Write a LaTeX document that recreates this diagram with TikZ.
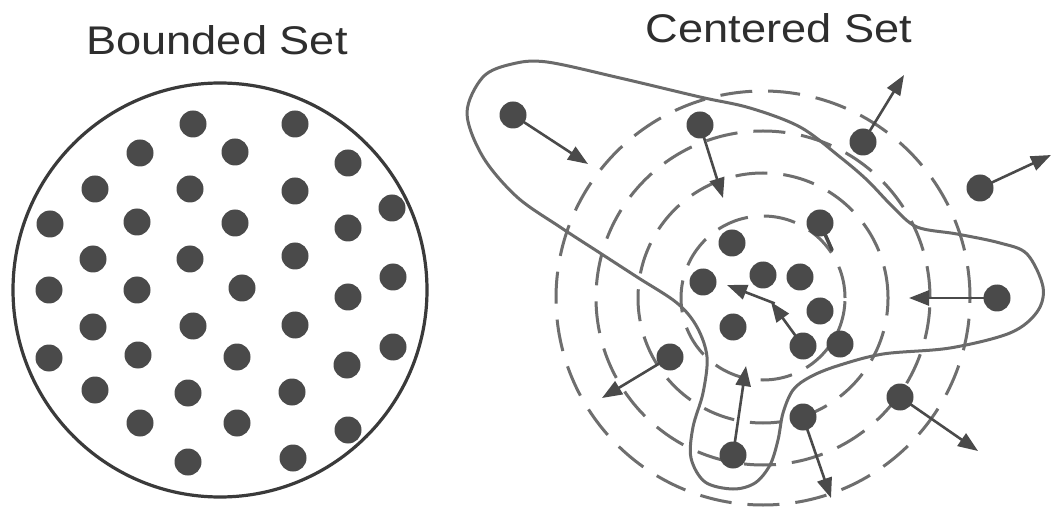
\documentclass[tikz,border=0pt]{standalone}
\usepackage{fontspec}
\setmainfont{Liberation Sans}
\usetikzlibrary{arrows.meta}
\definecolor{dotc}{HTML}{4A4A4A}
\definecolor{linec}{HTML}{3A3A3A}
\definecolor{curvec}{HTML}{6A6A6A}
\definecolor{dashc}{HTML}{6E6E6E}
\definecolor{arrc}{HTML}{4A4A4A}
\definecolor{textc}{HTML}{2E2E2E}
\tikzset{
  dot/.style={circle,fill=dotc,draw=none,minimum size=13.5pt,inner sep=0pt},
  arr/.style={draw=arrc,line width=1.3pt,-{Triangle[length=10pt,width=7.5pt]},shorten <=-2pt},
  tail/.style={draw=arrc,line width=1.8pt,line cap=round,shorten <=-2pt},
  ring/.style={draw=dashc,line width=1.5pt,dash pattern=on 16pt off 8pt},
  title/.style={font=\fontsize{20pt}{24pt}\selectfont,text=textc,anchor=base,xscale=1.13,inner sep=0pt}
}
\begin{document}
\begin{tikzpicture}[x=0.5pt,y=-0.5pt]
\useasboundingbox (0,0) rectangle (1053,507);
\fill[white] (0,0) rectangle (1053,507);
% titles
\node[title] (t1) at (217,55) {Bounded Set};
\node[title] (t2) at (779,43) {Centered Set};
% bounded set
\draw[linec,line width=1.6pt] (220,290) circle[radius=103.5pt];
\foreach \x/\y [count=\i] in {193/124,295/124,140/153,235/152,348/163,95/189,190/189,295/191,392/208,
  50/224,137/222,235/223,348/228,93/259,190/259,295/256,393/277,49/290,137/290,242/288,348/297,
  93/327,193/326,295/325,393/347,49/358,138/355,237/357,347/365,95/390,188/393,292/392,
  140/423,237/423,348/430,188/462,293/458}
  \node[dot] (b\i) at (\x,\y) {};
% centered set: dashed rings
\foreach \r in {41,62.5,83.5,103.5}
  \draw[ring] (763,298) circle[radius=\r pt];
% boundary curve
\draw[curvec,line width=1.5pt] plot[smooth cycle,tension=0.55] coordinates {
 (467,113) (483,77) (512,64) (547,62) (620,78) (700,97) (750,108) (800,127) (840,157)
 (867,180) (893,207) (917,227) (957,234) (1000,243) (1027,254) (1043,287) (1037,312)
 (1010,333) (950,348) (883,354) (837,366) (810,377) (793,390) (783,413) (778,440)
 (770,465) (755,483) (733,489) (705,482) (691,458) (693,427) (703,393) (707,357)
 (697,327) (677,303) (637,277) (600,253) (560,227) (517,197) (483,157)};
% dots
\node[dot] (c1) at (513,115) {};
\node[dot] (c2) at (700,125) {};
\node[dot] (c3) at (863,142) {};
\node[dot] (c4) at (980,188) {};
\node[dot] (c5) at (820,223) {};
\node[dot] (c6) at (732,243) {};
\node[dot] (c7) at (703,282) {};
\node[dot] (c8) at (763,275) {};
\node[dot] (c9) at (800,277) {};
\node[dot] (c10) at (820,311) {};
\node[dot] (c11) at (733,327) {};
\node[dot] (c12) at (803,346) {};
\node[dot] (c13) at (840,344) {};
\node[dot] (c14) at (997,298) {};
\node[dot] (c15) at (670,357) {};
\node[dot] (c16) at (900,397) {};
\node[dot] (c17) at (803,417) {};
\node[dot] (c18) at (733,455) {};
% arrow end points
\coordinate (e1) at (588,164);
\coordinate (e2) at (723,198);
\coordinate (e3) at (904,75);
\coordinate (e4) at (1051,155);
\coordinate (e5) at (832,250);
\coordinate (e6) at (771,302);
\coordinate (e7) at (727,285);
\coordinate (e8) at (602,398);
\coordinate (e9) at (909,298);
\coordinate (e10) at (978,451);
\coordinate (e11) at (831,498);
\coordinate (e12) at (746,366);
% arrows
\draw[arr] (c1) -- (e1);
\draw[arr] (c2) -- (e2);
\draw[arr] (c3) -- (e3);
\draw[arr] (c4) -- (e4);
\draw[tail] (c5) -- (e5);
\draw[arr] (c12) -- (e6);
\draw[arr] (e6) -- (e7);
\draw[arr] (c15) -- (e8);
\draw[arr] (c14) -- (e9);
\draw[arr] (c16) -- (e10);
\draw[arr] (c17) -- (e11);
\draw[arr] (c18) -- (e12);
\end{tikzpicture}
\end{document}
